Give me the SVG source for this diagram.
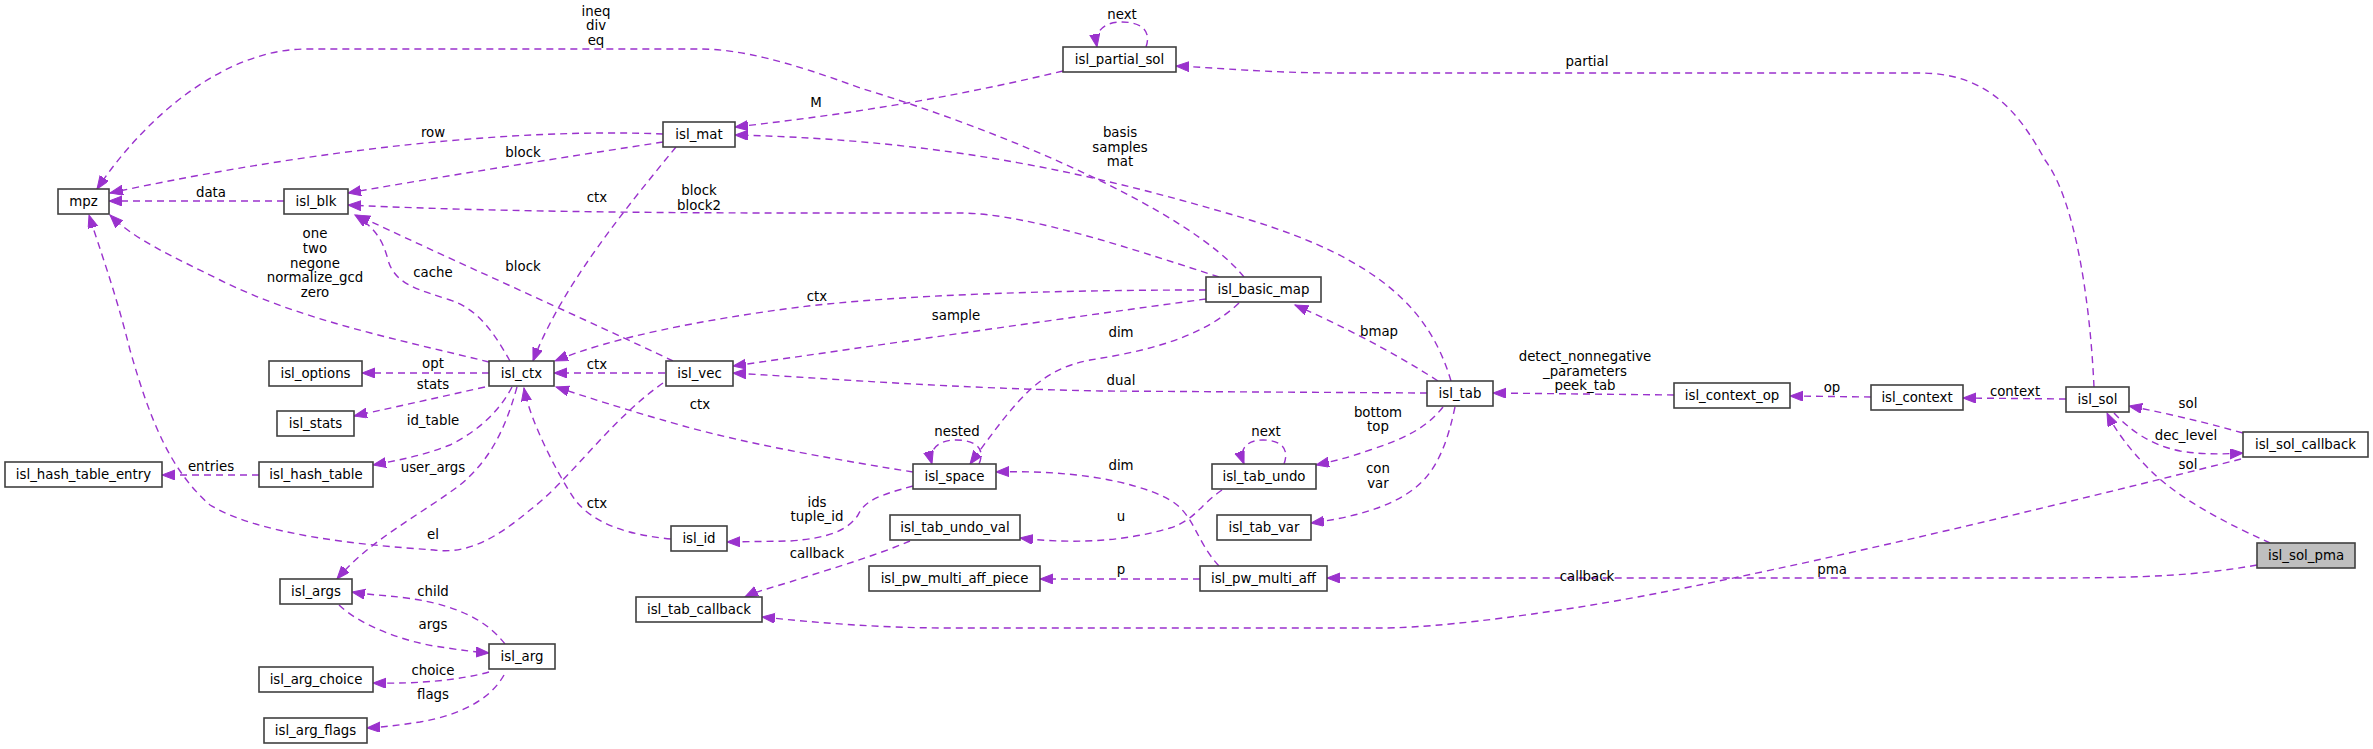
<svg xmlns="http://www.w3.org/2000/svg" width="2373" height="749" viewBox="0 0 2373 749">
<style>
text{font-family:"DejaVu Sans","Liberation Sans",sans-serif;font-size:13.33px;fill:#000;text-anchor:middle}
.n rect{fill:#fff;stroke:#404040;stroke-width:1.6}
.n.cur rect{fill:#bfbfbf}
.e path{fill:none;stroke:#9a32cd;stroke-width:1.4;stroke-dasharray:7,5;marker-end:url(#a)}
</style>
<defs>
<marker id="a" markerWidth="15" markerHeight="12" refX="13" refY="5" orient="auto" markerUnits="userSpaceOnUse">
<path d="M0,0 L13,5 L0,10 z" fill="#9a32cd" stroke="#9a32cd" stroke-width="1"/>
</marker>
</defs>
<rect width="2373" height="749" fill="#fff"/>

<g id="edges" class="e">
<path d="M1244,277 C1190,210 1000,130 860,88 C790,62 740,49 700,49 L306,49 C230,49 150,110 97,189"/>
<path d="M1063,71 C950,98 850,114 735,127"/>
<path d="M1146,47 C1152,30 1140,22 1122,22 C1105,22 1094,30 1097,47"/>
<path d="M2094,387 C2090,300 2075,200 2045,160 C2020,115 1990,73 1920,73 L1341,73 C1270,73 1220,68 1176,66"/>
<path d="M663,134 C520,128 320,148 110,193"/>
<path d="M663,142 C560,158 450,175 348,193"/>
<path d="M676,147 C620,215 560,290 533,361"/>
<path d="M284,201 L109,201"/>
<path d="M1219,277 C1150,255 1030,213 960,213 L800,213 C600,213 450,210 348,205"/>
<path d="M489,362 C400,340 300,320 220,280 C170,255 135,240 110,215"/>
<path d="M510,361 C495,335 480,310 450,300 C420,290 395,285 388,260 C383,240 375,228 355,215"/>
<path d="M673,361 C600,326 430,250 357,215"/>
<path d="M1206,290 C1050,290 900,295 800,307 C700,320 610,338 555,361"/>
<path d="M1206,299 C1050,320 880,345 733,366"/>
<path d="M1239,303 C1200,340 1140,352 1090,360 C1040,370 1020,395 970,464"/>
<path d="M1451,381 C1430,310 1380,260 1250,220 C1100,175 950,140 735,135"/>
<path d="M1438,381 C1390,350 1340,325 1295,305"/>
<path d="M1427,393 L1100,391 C950,388 850,380 733,373"/>
<path d="M665,373 L554,373"/>
<path d="M489,373 L362,373"/>
<path d="M485,387 C440,397 400,406 354,416"/>
<path d="M512,387 C500,410 480,430 450,445 C425,455 400,460 373,465"/>
<path d="M517,387 C505,430 490,460 460,485 C420,515 370,540 337,579"/>
<path d="M259,475 L162,475"/>
<path d="M663,383 C610,420 570,480 530,510 C500,535 470,555 434,550 C360,545 260,535 210,505 C170,470 150,420 130,350 C115,290 100,250 89,215"/>
<path d="M913,472 C850,462 750,445 680,425 C620,408 590,398 556,387"/>
<path d="M671,539 C630,535 595,525 575,500 C555,470 530,420 524,388"/>
<path d="M979,464 C986,448 975,440 956,440 C938,440 928,450 932,464"/>
<path d="M913,486 C880,495 865,500 858,515 C848,530 830,538 790,541 L727,542"/>
<path d="M910,541 C870,558 820,572 790,582 C770,588 755,592 745,597"/>
<path d="M1222,490 C1200,505 1195,520 1170,528 C1130,540 1080,545 1020,538"/>
<path d="M1284,464 C1290,448 1280,440 1263,440 C1248,440 1238,448 1244,464"/>
<path d="M1443,407 C1425,430 1400,440 1370,450 C1350,457 1335,461 1316,465"/>
<path d="M1455,407 C1448,440 1438,470 1415,488 C1390,508 1350,518 1311,523"/>
<path d="M1219,566 C1195,540 1195,515 1170,500 C1130,478 1060,470 996,472"/>
<path d="M1200,579 L1040,579"/>
<path d="M2257,565 C2200,575 2150,578 2050,578 L1327,578"/>
<path d="M2241,459 C2000,520 1700,590 1560,610 C1480,622 1420,628 1380,628 L950,628 C880,628 820,623 762,617"/>
<path d="M2066,399 L1963,398"/>
<path d="M1871,397 L1790,396"/>
<path d="M1674,395 L1493,393"/>
<path d="M2243,433 C2200,421 2165,413 2129,406"/>
<path d="M2114,413 C2130,430 2150,445 2180,451 C2205,455 2225,454 2243,453"/>
<path d="M2270,543 C2230,525 2180,500 2150,470 C2130,450 2115,430 2107,413"/>
<path d="M505,644 C490,625 470,612 434,603 C400,595 375,596 352,592"/>
<path d="M339,605 C360,625 400,640 434,646 C460,650 475,652 489,653"/>
<path d="M489,672 C460,680 420,684 373,683"/>
<path d="M504,675 C490,700 460,715 420,722 C400,725 385,727 367,728"/>
</g>

<g id="edge-labels">
<text x="596" y="15.5">ineq</text><text x="596" y="30.2">div</text><text x="596" y="44.9">eq</text>
<text x="816" y="107">M</text>
<text x="1122" y="19">next</text>
<text x="1587" y="66">partial</text>
<text x="433" y="137">row</text>
<text x="523" y="157">block</text>
<text x="597" y="202">ctx</text>
<text x="211" y="197">data</text>
<text x="699" y="195">block</text><text x="699" y="209.5">block2</text>
<text x="315" y="238.2">one</text><text x="315" y="252.9">two</text><text x="315" y="267.6">negone</text><text x="315" y="282.3">normalize_gcd</text><text x="315" y="297">zero</text>
<text x="433" y="277">cache</text>
<text x="523" y="271">block</text>
<text x="817" y="301">ctx</text>
<text x="956" y="320">sample</text>
<text x="1121" y="337">dim</text>
<text x="1120" y="137">basis</text><text x="1120" y="151.7">samples</text><text x="1120" y="166.4">mat</text>
<text x="1379" y="336">bmap</text>
<text x="1121" y="385">dual</text>
<text x="597" y="369">ctx</text>
<text x="433" y="368">opt</text>
<text x="433" y="389">stats</text>
<text x="433" y="425">id_table</text>
<text x="433" y="472">user_args</text>
<text x="211" y="471">entries</text>
<text x="433" y="539">el</text>
<text x="700" y="409">ctx</text>
<text x="597" y="508">ctx</text>
<text x="957" y="436">nested</text>
<text x="817" y="506.5">ids</text><text x="817" y="521">tuple_id</text>
<text x="817" y="558">callback</text>
<text x="1121" y="521">u</text>
<text x="1266" y="436">next</text>
<text x="1378" y="416.5">bottom</text><text x="1378" y="431">top</text>
<text x="1378" y="473">con</text><text x="1378" y="487.5">var</text>
<text x="1121" y="470">dim</text>
<text x="1121" y="574">p</text>
<text x="1832" y="574">pma</text>
<text x="1587" y="581">callback</text>
<text x="2015" y="396">context</text>
<text x="1832" y="392">op</text>
<text x="1585" y="361">detect_nonnegative</text><text x="1585" y="375.7">_parameters</text><text x="1585" y="390.4">peek_tab</text>
<text x="2188" y="408">sol</text>
<text x="2186" y="440">dec_level</text>
<text x="2188" y="469">sol</text>
<text x="433" y="596">child</text>
<text x="433" y="629">args</text>
<text x="433" y="675">choice</text>
<text x="433" y="699">flags</text>
</g>

<g id="mpz" class="n"><rect x="58" y="189" width="51" height="25"/><text x="83.5" y="206">mpz</text></g>
<g id="isl_blk" class="n"><rect x="284" y="189" width="64" height="25"/><text x="316" y="206">isl_blk</text></g>
<g id="isl_mat" class="n"><rect x="663" y="122" width="72" height="25"/><text x="699" y="139">isl_mat</text></g>
<g id="isl_partial_sol" class="n"><rect x="1063" y="47" width="113" height="25"/><text x="1119.5" y="64">isl_partial_sol</text></g>
<g id="isl_options" class="n"><rect x="269" y="361" width="93" height="25"/><text x="315.5" y="378">isl_options</text></g>
<g id="isl_ctx" class="n"><rect x="489" y="361" width="65" height="25"/><text x="521.5" y="378">isl_ctx</text></g>
<g id="isl_vec" class="n"><rect x="666" y="361" width="67" height="25"/><text x="699.5" y="378">isl_vec</text></g>
<g id="isl_stats" class="n"><rect x="277" y="411" width="77" height="25"/><text x="315.5" y="428">isl_stats</text></g>
<g id="isl_hash_table_entry" class="n"><rect x="5" y="462" width="157" height="25"/><text x="83.5" y="479">isl_hash_table_entry</text></g>
<g id="isl_hash_table" class="n"><rect x="259" y="462" width="114" height="25"/><text x="316" y="479">isl_hash_table</text></g>
<g id="isl_id" class="n"><rect x="671" y="526" width="56" height="25"/><text x="699" y="543">isl_id</text></g>
<g id="isl_args" class="n"><rect x="280" y="579" width="72" height="25"/><text x="316" y="596">isl_args</text></g>
<g id="isl_tab_callback" class="n"><rect x="636" y="597" width="126" height="25"/><text x="699" y="614">isl_tab_callback</text></g>
<g id="isl_arg" class="n"><rect x="489" y="644" width="66" height="25"/><text x="522" y="661">isl_arg</text></g>
<g id="isl_arg_choice" class="n"><rect x="259" y="667" width="114" height="25"/><text x="316" y="684">isl_arg_choice</text></g>
<g id="isl_arg_flags" class="n"><rect x="264" y="718" width="103" height="25"/><text x="315.5" y="735">isl_arg_flags</text></g>
<g id="isl_basic_map" class="n"><rect x="1206" y="277" width="115" height="25"/><text x="1263.5" y="294">isl_basic_map</text></g>
<g id="isl_tab" class="n"><rect x="1427" y="381" width="66" height="25"/><text x="1460" y="398">isl_tab</text></g>
<g id="isl_space" class="n"><rect x="913" y="464" width="83" height="25"/><text x="954.5" y="481">isl_space</text></g>
<g id="isl_tab_undo" class="n"><rect x="1212" y="464" width="104" height="25"/><text x="1264" y="481">isl_tab_undo</text></g>
<g id="isl_tab_var" class="n"><rect x="1217" y="515" width="94" height="25"/><text x="1264" y="532">isl_tab_var</text></g>
<g id="isl_tab_undo_val" class="n"><rect x="890" y="515" width="130" height="25"/><text x="955" y="532">isl_tab_undo_val</text></g>
<g id="isl_pw_multi_aff_piece" class="n"><rect x="869" y="566" width="171" height="25"/><text x="954.5" y="583">isl_pw_multi_aff_piece</text></g>
<g id="isl_pw_multi_aff" class="n"><rect x="1200" y="566" width="127" height="25"/><text x="1263.5" y="583">isl_pw_multi_aff</text></g>
<g id="isl_context_op" class="n"><rect x="1674" y="383" width="116" height="25"/><text x="1732" y="400">isl_context_op</text></g>
<g id="isl_context" class="n"><rect x="1871" y="385" width="92" height="25"/><text x="1917" y="402">isl_context</text></g>
<g id="isl_sol" class="n"><rect x="2066" y="387" width="63" height="25"/><text x="2097.5" y="404">isl_sol</text></g>
<g id="isl_sol_callback" class="n"><rect x="2243" y="432" width="125" height="25"/><text x="2305.5" y="449">isl_sol_callback</text></g>
<g id="isl_sol_pma" class="n cur"><rect x="2257" y="543" width="98" height="25"/><text x="2306" y="560">isl_sol_pma</text></g>
</svg>
